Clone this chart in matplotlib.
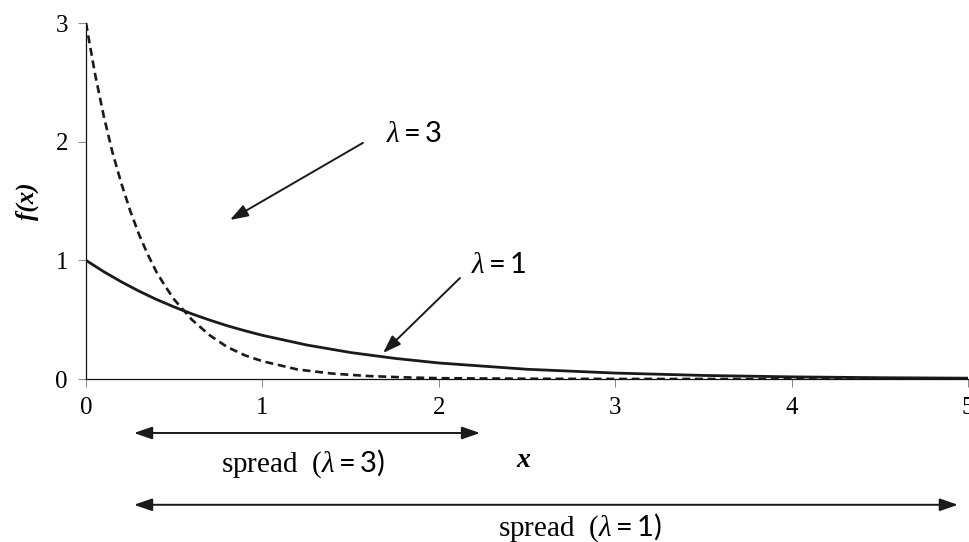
import matplotlib
matplotlib.use("Agg")
import matplotlib.pyplot as plt

plt.rcParams['font.family'] = ['Liberation Serif', 'DejaVu Serif']
plt.rcParams['mathtext.fontset'] = 'custom'
plt.rcParams['mathtext.rm'] = 'Lato'
plt.rcParams['mathtext.it'] = 'Liberation Serif:italic'
plt.rcParams['mathtext.bf'] = 'Lato:bold'

# values
x_l1 = [0, 0.1, 0.2, 0.3, 0.4, 0.5, 0.6, 0.7, 0.8, 0.9, 1.0, 1.25, 1.5, 1.75,
        2.0, 2.5, 3.0, 3.5, 4.0, 4.5, 5.0]
y_l1 = [1.0, 0.905, 0.819, 0.741, 0.670, 0.607, 0.549, 0.497, 0.449, 0.407,
        0.368, 0.287, 0.223, 0.174, 0.135, 0.082, 0.050, 0.030, 0.018, 0.011,
        0.007]

x_l3 = [0, 0.05, 0.1, 0.15, 0.2, 0.25, 0.3, 0.35, 0.4, 0.45, 0.5, 0.6, 0.7,
        0.8, 0.9, 1.0, 1.2, 1.4, 1.6, 1.8, 2.0, 2.5, 3.0, 4.0, 5.0]
y_l3 = [3.0, 2.58, 2.22, 1.91, 1.65, 1.42, 1.22, 1.05, 0.90, 0.78, 0.67,
        0.50, 0.37, 0.27, 0.20, 0.15, 0.08, 0.045, 0.025, 0.014, 0.007,
        0.002, 0.0004, 0.0, 0.0]

x_ticks = [0, 1, 2, 3, 4, 5]
y_ticks = [0, 1, 2, 3]

fig = plt.figure(figsize=(9.69, 5.42), dpi=100)
ax = fig.add_axes([86/969, 163/542, 882/969, 356/542])

ax.plot(x_l1, y_l1, color='#1a1a1a', lw=2.0, solid_capstyle='butt')
ax.plot(x_l3, y_l3, color='#1a1a1a', lw=1.9, dashes=(3.0, 1.8))

ax.set_xlim(0, 5)
ax.set_ylim(0, 3)
ax.set_xticks(x_ticks)
ax.set_yticks(y_ticks)
ax.tick_params(axis='both', direction='out', length=6, width=0.7,
               color='#888888', labelsize=18, pad=7)
for s in ['top', 'right']:
    ax.spines[s].set_visible(False)
for s in ['left', 'bottom']:
    ax.spines[s].set_linewidth(0.9)
    ax.spines[s].set_color('#111111')

ax.set_ylabel('f(x)', fontsize=18, fontweight='bold', fontstyle='italic',
              labelpad=12)

arrow = dict(arrowstyle='-|>,head_length=1.1,head_width=0.38',
             color='#1a1a1a', lw=1.4, shrinkA=0, shrinkB=0)

ax.annotate('', xy=(0.816, 1.34), xytext=(1.57, 1.99), arrowprops=arrow)
ax.annotate('', xy=(1.684, 0.219), xytext=(2.12, 0.851), arrowprops=arrow)
ax.text(1.70, 2.06, r'$\lambda = 3$', fontsize=21, va='center', ha='left')
ax.text(2.18, 0.95, r'$\lambda = 1$', fontsize=21, va='center', ha='left')

# spread arrows below the axis
both = dict(arrowstyle='<|-|>,head_length=1.1,head_width=0.38',
            color='#1a1a1a', lw=1.4, shrinkA=0, shrinkB=0)
ax.annotate('', xy=(0.272, -0.455), xytext=(2.234, -0.455),
            arrowprops=both, annotation_clip=False)
ax.annotate('', xy=(0.272, -1.06), xytext=(4.943, -1.06),
            arrowprops=both, annotation_clip=False)

ax.text(1.23, -0.71, r'spread  ($\lambda = \mathrm{3)}$', fontsize=21,
        ha='center', va='center')
ax.text(2.80, -1.25, r'spread  ($\lambda = \mathrm{1)}$', fontsize=21,
        ha='center', va='center')
ax.text(2.48, -0.69, 'x', fontsize=20, fontweight='bold', fontstyle='italic',
        ha='center', va='center')

fig.savefig('out.png', dpi=100)
